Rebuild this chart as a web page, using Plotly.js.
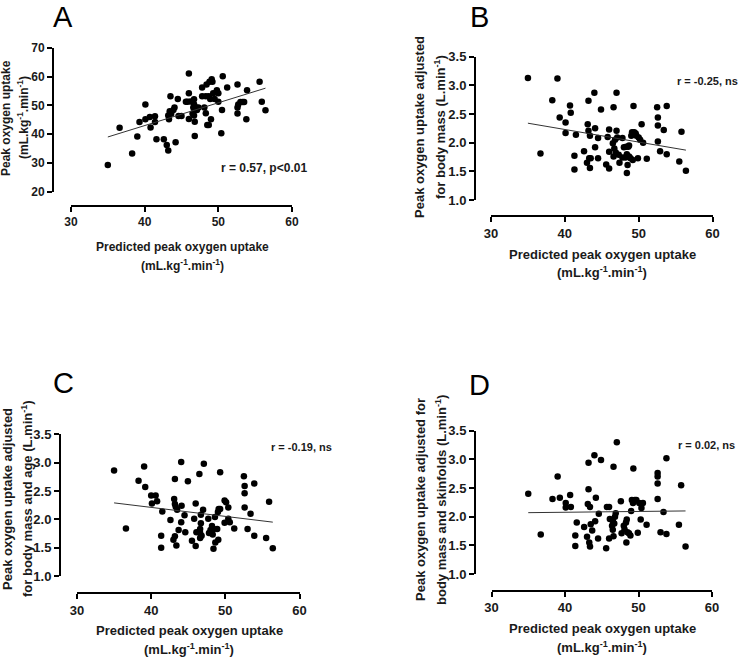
<!DOCTYPE html>
<html>
<head>
<meta charset="utf-8">
<script src="https://cdn.plot.ly/plotly-3.0.1.min.js"></script>
<style>
  html, body { margin: 0; padding: 0; background: #fff; }
  #myDiv { width: 739px; height: 657px; }
</style>
</head>
<body>
<div id="myDiv"></div>
<script>
// Panel A: peak VO2 (mL/kg/min) vs predicted
var xA = [35.0,36.6,38.3,39.0,39.3,40.1,40.1,40.7,40.8,41.4,41.4,41.6,42.6,43.0,43.2,43.2,43.3,43.4,43.5,43.6,43.9,44.05,44.2,44.5,44.6,45.0,45.6,45.8,46.0,46.0,46.0,46.2,46.5,46.6,46.7,46.7,46.7,46.8,46.8,46.8,47.0,47.1,47.3,47.8,47.8,48.1,48.3,48.4,48.3,48.5,48.7,48.7,48.8,48.9,49.0,49.1,49.2,49.3,49.5,49.8,50.0,50.0,50.4,50.5,50.6,51.2,52.6,52.6,52.6,52.7,53.0,53.3,53.5,53.8,53.9,55.6,55.9,56.4];
var yA = [29.2,42.2,33.2,39.2,44.2,50.3,45.2,46.0,42.3,46.2,44.2,38.2,38.2,36.2,34.3,46.5,45.2,48.0,53.2,47.1,48.4,49.3,37.2,52.2,46.3,46.3,51.3,51.3,54.2,61.1,45.3,51.4,47.2,49.3,52.1,50.4,46.5,39.3,44.3,48.4,49.3,48.4,49.3,56.2,53.2,49.3,53.2,57.3,47.3,43.2,53.2,43.2,58.2,52.2,45.2,59.1,58.2,54.2,52.2,55.3,54.2,51.3,40.3,48.4,60.2,56.2,57.3,47.2,49.3,50.3,51.2,51.2,51.2,45.2,55.3,58.2,51.3,48.3];

// Panel B: adjusted for body mass (L/min)
var xB = [35.0,36.7,38.3,39.0,39.3,40.1,40.1,40.7,40.8,41.3,41.3,41.5,42.6,43.0,43.1,43.2,43.2,43.3,43.4,43.4,43.5,44.0,44.1,44.1,44.5,44.5,44.9,45.6,45.8,46.0,46.0,46.0,46.5,46.6,46.6,46.7,46.8,46.9,47.0,47.0,47.1,47.3,47.4,47.8,47.8,48.0,48.2,48.3,48.4,48.4,48.5,48.6,48.7,48.7,48.9,49.0,49.1,49.2,49.3,49.4,49.6,49.7,49.9,50.0,50.2,50.4,50.6,51.1,52.5,52.6,52.6,52.6,52.9,53.4,53.8,53.8,55.5,55.8,56.4];
var yB = [3.13,1.81,2.74,3.12,2.44,2.35,2.17,2.65,2.52,1.77,1.53,2.14,1.85,1.65,2.32,2.73,2.21,1.73,1.56,2.12,1.73,2.87,1.92,2.25,1.73,2.08,2.58,1.62,2.10,2.23,1.84,1.55,1.99,2.62,1.76,1.90,2.05,1.83,2.21,2.87,2.09,1.79,1.65,2.08,1.74,1.92,1.74,1.93,1.47,1.80,1.61,1.93,1.76,1.95,1.73,2.12,2.18,1.70,2.64,2.18,2.16,2.12,1.73,2.09,2.05,2.32,2.00,1.72,2.62,2.44,2.30,2.02,1.85,2.22,2.64,1.80,1.67,2.19,1.51];

// Panel C: adjusted for body mass and age (L/min)
var xC = [35.0,36.6,38.3,39.05,39.2,40.0,40.1,40.6,40.8,41.35,41.35,41.5,42.6,43.0,43.1,43.2,43.2,43.2,43.3,43.4,43.5,43.7,44.05,44.05,44.1,44.5,44.6,44.95,45.5,45.8,46.0,46.0,46.1,46.5,46.6,46.6,46.6,46.7,46.7,46.8,47.0,47.1,47.7,47.8,48.0,48.2,48.3,48.4,48.4,48.6,48.65,48.9,49.0,49.05,49.1,49.3,49.3,49.9,49.9,50.1,50.4,50.4,50.6,51.2,52.5,52.6,52.6,52.6,53.0,53.4,53.9,53.9,55.5,55.9,56.4];
var yC = [2.86,1.84,2.68,2.93,2.57,2.42,2.28,2.42,2.32,1.71,1.50,2.14,1.99,1.64,2.36,1.70,2.71,2.27,2.22,1.54,2.17,1.81,3.01,1.95,2.24,2.07,1.77,2.67,1.62,2.01,2.28,1.53,1.77,2.80,1.76,1.83,1.67,1.93,2.08,1.71,2.17,2.98,2.01,1.76,1.81,1.88,1.73,1.48,1.83,2.04,1.59,1.83,2.13,1.64,2.18,2.83,2.18,2.33,1.94,2.30,2.21,2.01,1.95,1.84,2.76,2.59,2.46,2.21,1.83,2.10,2.63,1.71,1.67,2.31,1.49];

// Panel D: adjusted for body mass and skinfolds (L/min)
var xD = [35.0,36.7,38.3,39.0,39.3,40.1,40.1,40.7,40.8,41.4,41.4,41.6,42.6,43.0,43.1,43.2,43.2,43.3,43.4,43.4,43.5,43.7,44.0,44.1,44.2,44.5,44.6,44.9,45.6,45.7,46.0,46.0,46.1,46.4,46.5,46.5,46.6,46.6,46.7,46.8,46.9,47.05,47.6,47.7,48.0,48.1,48.3,48.35,48.4,48.5,48.7,48.9,49.0,49.1,49.25,49.3,49.5,49.7,49.9,50.1,50.3,50.4,50.6,51.1,52.6,52.6,52.6,52.6,53.0,53.4,53.8,53.8,55.5,55.8,56.4];
var yD = [2.40,1.69,2.31,2.70,2.33,2.24,2.16,2.38,2.17,1.67,1.49,1.90,1.82,1.65,2.22,2.94,2.48,1.55,1.48,2.17,1.87,1.76,3.07,1.92,2.33,1.62,2.05,2.99,1.45,2.17,2.17,1.62,1.96,1.84,1.93,1.77,2.87,1.66,1.88,2.00,2.06,3.30,2.27,1.71,1.84,1.78,1.90,1.55,1.95,1.73,1.71,1.67,2.10,2.29,2.24,2.84,2.29,2.29,1.72,2.24,1.95,2.15,2.24,1.86,2.76,2.70,2.58,2.31,1.73,2.08,3.02,1.70,1.86,2.55,1.48];

// regression line end points
var fitX = [35, 56.4];
var fitA = [39.0, 56.0];
var fitB = [2.34, 1.87];
var fitC = [2.29, 1.95];
var fitD = [2.07, 2.10];

var stats = ['r = 0.57, p<0.01', 'r = -0.25, ns', 'r = -0.19, ns', 'r = 0.02, ns'];
var letters = ['A', 'B', 'C', 'D'];

var W = 739, H = 657;
function px(x) { return x / W; }
function py(y) { return 1 - y / H; }

var FONT = 'Arial, "Liberation Sans", sans-serif';
var INK = '#1a1a1a';

// pixel boxes of each panel: x30,x60 / yTop,yBottom / axis line positions
var boxes = [
  {x0: 71, x1: 292, yt: 48, yb: 191.5, ax: 53, ay: 206, rng: [20, 70], dt: 10, fmt: 'd', fs: 12},
  {x0: 491, x1: 712.5, yt: 56.7, yb: 200, ax: 475, ay: 216, rng: [1, 3.5], dt: 0.5, fmt: '.1f', fs: 13},
  {x0: 77, x1: 299.5, yt: 434.3, yb: 576, ax: 60, ay: 593, rng: [1, 3.5], dt: 0.5, fmt: '.1f', fs: 13},
  {x0: 491.5, x1: 712, yt: 430.7, yb: 574, ax: 475, ay: 590.7, rng: [1, 3.5], dt: 0.5, fmt: '.1f', fs: 13}
];

var xs = [xA, xB, xC, xD];
var ys = [yA, yB, yC, yD];
var fits = [fitA, fitB, fitC, fitD];

var data = [];
var layout = {
  width: W, height: H,
  margin: {l: 0, r: 0, t: 0, b: 0},
  paper_bgcolor: '#fff', plot_bgcolor: 'rgba(0,0,0,0)',
  showlegend: false,
  font: {family: FONT, color: INK},
  annotations: []
};

boxes.forEach(function (b, i) {
  var n = i === 0 ? '' : String(i + 1);
  data.push({
    x: xs[i], y: ys[i], xaxis: 'x' + n, yaxis: 'y' + n,
    type: 'scatter', mode: 'markers',
    marker: {size: 6.5, color: '#000'}, cliponaxis: false, hoverinfo: 'x+y'
  });
  data.push({
    x: fitX, y: fits[i], xaxis: 'x' + n, yaxis: 'y' + n,
    type: 'scatter', mode: 'lines',
    line: {color: '#333', width: 1}, hoverinfo: 'skip'
  });
  layout['xaxis' + n] = {
    domain: [px(b.x0), px(b.x1)], range: [30, 60], dtick: 10,
    anchor: 'free', position: py(b.ay),
    showline: true, linecolor: '#000', linewidth: 2,
    ticks: 'outside', ticklen: 5, tickwidth: 2, tickcolor: '#000',
    showgrid: false, zeroline: false,
    tickfont: {family: FONT, size: b.fs, weight: 'bold', color: INK}
  };
  layout['yaxis' + n] = {
    domain: [py(b.yb), py(b.yt)], range: b.rng, dtick: b.dt, tickformat: b.fmt,
    anchor: 'free', position: px(b.ax),
    showline: true, linecolor: '#000', linewidth: 2,
    ticks: 'outside', ticklen: 5, tickwidth: 2, tickcolor: '#000',
    showgrid: false, zeroline: false,
    tickfont: {family: FONT, size: b.fs, weight: 'bold', color: INK}
  };
});

function note(text, x, y, size, opts) {
  var a = {
    text: text, xref: 'paper', yref: 'paper', x: px(x), y: py(y),
    xanchor: 'center', yanchor: 'middle', showarrow: false,
    font: {family: FONT, size: size, color: INK, weight: 'bold'}
  };
  for (var k in opts) a[k] = opts[k];
  layout.annotations.push(a);
}

var unitsX = '(mL.kg<sup>-1</sup>.min<sup>-1</sup>)';
var predicted = 'Predicted peak oxygen uptake';

// panel letters (top-anchored so the box stays inside the page)
var letterPos = [[63, 0], [479, 0], [63, 366], [479, 368]];
letters.forEach(function (l, i) {
  layout.annotations.push({
    text: l, xref: 'paper', yref: 'paper', x: px(letterPos[i][0]), y: py(letterPos[i][1]),
    xanchor: 'center', yanchor: 'top', showarrow: false, borderpad: 0,
    font: {family: FONT, size: 29, color: '#000'}
  });
});

// stats text
note(stats[0], 264, 168, 12);
note(stats[1], 707, 81, 11);
note(stats[2], 301, 447, 11);
note(stats[3], 706, 445, 11);

// x axis titles
note(predicted, 182, 247, 12);
note(unitsX, 182, 265, 12);
note(predicted, 602, 254, 13);
note(unitsX, 602, 272, 13);
note(predicted, 189, 630, 13);
note(unitsX, 189, 649, 13);
note(predicted, 602, 628, 13);
note(unitsX, 602, 647, 13);

// y axis titles (two lines each, rotated)
var rot = {textangle: -90};
note('Peak oxygen uptake', 6, 118, 12, rot);
note(unitsX, 23, 118, 12, rot);
note('Peak oxygen uptake adjusted', 420, 127, 13, rot);
note('for body mass (L.min<sup>-1</sup>)', 440, 127, 13, rot);
note('Peak oxygen uptake adjusted', 7, 499, 13, rot);
note('for body mass and age (L.min<sup>-1</sup>)', 27, 499, 13, rot);
note('Peak oxygen uptake adjusted for', 420, 500, 13, rot);
note('body mass and skinfolds (L.min<sup>-1</sup>)', 441, 500, 13, rot);

Plotly.newPlot('myDiv', data, layout, {displayModeBar: false, staticPlot: true});
</script>
</body>
</html>
